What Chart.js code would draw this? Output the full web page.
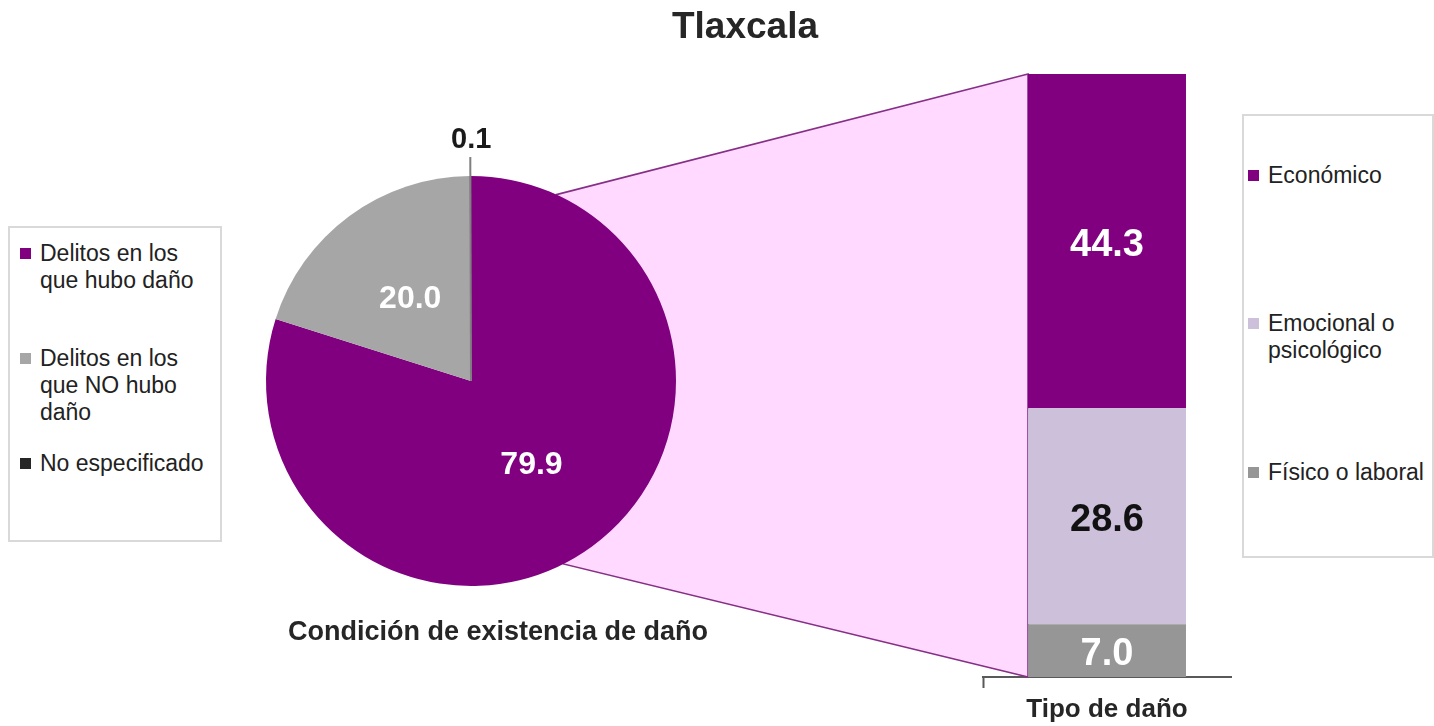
<!DOCTYPE html>
<html>
<head>
<meta charset="utf-8">
<script src="https://cdn.jsdelivr.net/npm/chart.js@4"></script>
<style>
html,body{margin:0;padding:0;background:#ffffff;}
#wrap{position:relative;width:1434px;height:726px;overflow:hidden;font-family:"Liberation Sans",Arial,sans-serif;color:#222;}
canvas{position:absolute;left:0;top:0;}
.title{position:absolute;left:0;width:1490px;top:5px;line-height:42px;text-align:center;font-weight:bold;font-size:37px;color:#262626;}
.caption{position:absolute;left:0;width:996px;top:615px;line-height:32px;text-align:center;font-weight:bold;font-size:27px;color:#262626;}
.legend{position:absolute;box-sizing:border-box;border:2px solid #d9d9d9;background:#fff;}
.item{position:absolute;left:0;right:0;}
.mk{position:absolute;width:11px;height:11px;}
.tx{position:absolute;font-size:23px;line-height:27px;white-space:nowrap;color:#222;}
</style>
</head>
<body>
<div id="wrap">
  <canvas id="bar" width="1434" height="726"></canvas>
  <canvas id="pie" width="1434" height="726"></canvas>
  <div class="title" id="title"></div>
  <div class="caption" id="caption"></div>
  <div class="legend" id="legL" style="left:8px;top:226px;width:214px;height:316px;"></div>
  <div class="legend" id="legR" style="left:1242px;top:114px;width:192px;height:444px;"></div>
</div>
<script>
// ---- data ----
const chartTitle = 'Tlaxcala';
const pieCaption = 'Condición de existencia de daño';
const pieLabels = [['Delitos en los', 'que hubo daño'], ['Delitos en los', 'que NO hubo', 'daño'], ['No especificado']];
const pieValues = [79.9, 20.0, 0.1];
const barCategory = ['Tipo de daño'];
const barLabels = [['Económico'], ['Emocional o', 'psicológico'], ['Físico o laboral']];
const barValues = [44.3, 28.6, 7.0];

// ---- styles ----
const pieColors = ['#800080', '#A6A6A6', '#262626'];
const barColors = ['#800080', '#CCC0DA', '#969696'];
const barLabelColors = ['#ffffff', '#111111', '#ffffff'];
const FONT = '"Liberation Sans", Arial, sans-serif';
Chart.defaults.font.family = FONT;

document.getElementById('title').textContent = chartTitle;
document.getElementById('caption').textContent = pieCaption;

function buildLegend(el, labels, colors, firstTop, slot, textLeft, markLeft) {
  labels.forEach((lines, i) => {
    const it = document.createElement('div');
    it.className = 'item';
    it.style.top = (firstTop + i * slot) + 'px';
    const mk = document.createElement('div');
    mk.className = 'mk';
    mk.style.left = markLeft + 'px';
    mk.style.top = '8px';
    mk.style.background = colors[i];
    const tx = document.createElement('div');
    tx.className = 'tx';
    tx.style.left = textLeft + 'px';
    lines.forEach((ln, k) => {
      if (k) tx.appendChild(document.createElement('br'));
      tx.appendChild(document.createTextNode(ln));
    });
    it.appendChild(mk);
    it.appendChild(tx);
    el.appendChild(it);
  });
}
buildLegend(document.getElementById('legL'), pieLabels, pieColors, 11.5, 105, 30, 10);
buildLegend(document.getElementById('legR'), barLabels, barColors, 45.5, 148.5, 24, 4);

// ---- pie ----
const pieLabelPlugin = {
  id: 'pieLabels',
  afterDatasetsDraw(chart) {
    const ctx = chart.ctx;
    const meta = chart.getDatasetMeta(0);
    ctx.save();
    ctx.textAlign = 'center';
    ctx.textBaseline = 'middle';
    meta.data.forEach((arc, i) => {
      const txt = pieValues[i].toFixed(1);
      if (i < 2) {
        const p = arc.getCenterPoint();
        ctx.font = 'bold 32px ' + FONT;
        ctx.fillStyle = '#ffffff';
        ctx.fillText(txt, p.x, p.y + 1);
      } else {
        const mid = (arc.startAngle + arc.endAngle) / 2;
        const r = arc.outerRadius;
        ctx.strokeStyle = '#7f7f7f';
        ctx.lineWidth = 2;
        ctx.beginPath();
        ctx.moveTo(arc.x, arc.y);
        ctx.lineTo(arc.x + Math.cos(mid) * (r + 19), arc.y + Math.sin(mid) * (r + 19));
        ctx.stroke();
        ctx.font = 'bold 29px ' + FONT;
        ctx.fillStyle = '#1a1a1a';
        ctx.fillText(txt, arc.x + Math.cos(mid) * (r + 36) + 1, arc.y + Math.sin(mid) * (r + 36));
      }
    });
    ctx.restore();
  }
};

const pieChart = new Chart(document.getElementById('pie'), {
  type: 'pie',
  data: {
    labels: pieLabels,
    datasets: [{ data: pieValues, backgroundColor: pieColors, borderWidth: 0 }]
  },
  options: {
    responsive: false,
    animation: false,
    events: [],
    layout: { padding: { left: 266, top: 176, right: 758, bottom: 140 } },
    plugins: { legend: { display: false }, tooltip: { enabled: false } }
  },
  plugins: [pieLabelPlugin]
});

// ---- bar ----
const connectorPlugin = {
  id: 'connector',
  beforeDatasetsDraw(chart) {
    const arc = pieChart.getDatasetMeta(0).data[0];
    const cx = arc.x, cy = arc.y, r = arc.outerRadius;
    const a1 = (24.6 - 90) * Math.PI / 180;
    const a2 = (153.2 - 90) * Math.PI / 180;
    const n = chart.data.datasets.length;
    const topEl = chart.getDatasetMeta(n - 1).data[0];
    const left = topEl.x - topEl.width / 2;
    const top = topEl.y;
    const bottom = chart.scales.y.getPixelForValue(0);
    const ctx = chart.ctx;
    ctx.save();
    ctx.beginPath();
    ctx.moveTo(cx + r * Math.cos(a1), cy + r * Math.sin(a1));
    ctx.lineTo(left, top);
    ctx.lineTo(left, bottom);
    ctx.lineTo(cx + r * Math.cos(a2), cy + r * Math.sin(a2));
    ctx.closePath();
    ctx.fillStyle = '#FFD9FF';
    ctx.fill();
    ctx.strokeStyle = '#862F86';
    ctx.lineWidth = 1.6;
    ctx.stroke();
    ctx.restore();
  },
  afterDatasetsDraw(chart) {
    const ctx = chart.ctx;
    ctx.save();
    ctx.textAlign = 'center';
    ctx.textBaseline = 'middle';
    ctx.font = 'bold 38px ' + FONT;
    chart.data.datasets.forEach((ds, di) => {
      const el = chart.getDatasetMeta(di).data[0];
      const idx = ds.srcIndex;
      ctx.fillStyle = barLabelColors[idx];
      ctx.fillText(barValues[idx].toFixed(1), el.x, (el.y + el.base) / 2 + 4);
    });
    ctx.restore();
  }
};

const barDatasets = barValues.map((v, i) => ({
  label: barLabels[i].join(' '),
  data: [v],
  srcIndex: i,
  backgroundColor: barColors[i],
  borderWidth: 0,
  barPercentage: 0.637,
  categoryPercentage: 1
})).reverse();

const barTotal = barValues.reduce((a, b) => a + b, 0);

const barChart = new Chart(document.getElementById('bar'), {
  type: 'bar',
  data: { labels: barCategory, datasets: barDatasets },
  options: {
    responsive: false,
    animation: false,
    events: [],
    layout: { padding: { left: 983, right: 203, top: 74, bottom: 0 } },
    plugins: { legend: { display: false }, tooltip: { enabled: false } },
    scales: {
      x: {
        stacked: true,
        afterFit: (scale) => { scale.height = 49; },
        grid: {
          display: true,
          drawOnChartArea: false,
          offset: true,
          drawTicks: true,
          tickLength: 11,
          tickWidth: 2,
          tickColor: (c) => c.index === 0 ? '#595959' : 'rgba(0,0,0,0)'
        },
        border: { display: true, color: '#595959', width: 2 },
        ticks: {
          display: true,
          maxRotation: 0,
          padding: 6,
          color: '#262626',
          font: { size: 26, weight: 'bold' }
        }
      },
      y: {
        stacked: true,
        display: false,
        min: 0,
        max: barTotal
      }
    }
  },
  plugins: [connectorPlugin]
});
</script>
</body>
</html>
